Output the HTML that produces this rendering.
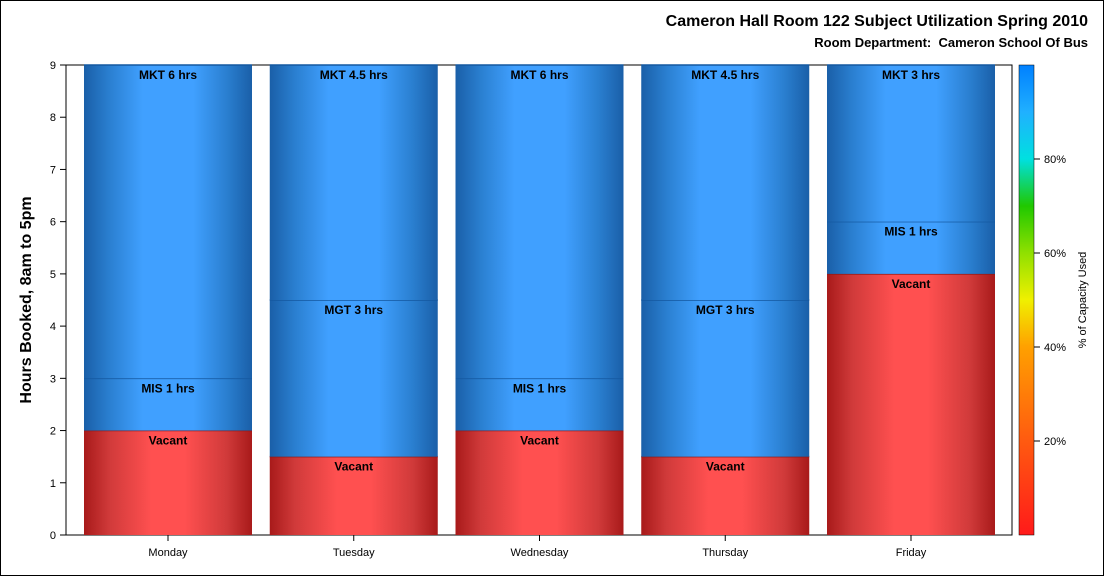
<!DOCTYPE html>
<html><head><meta charset="utf-8"><style>
body{margin:0;background:#fff;font-family:"Liberation Sans",sans-serif}
</style></head><body>
<svg id="c" width="1104" height="576" xmlns="http://www.w3.org/2000/svg" font-family="Liberation Sans, sans-serif">
<defs>
<linearGradient id="gb" x1="0" x2="1" y1="0" y2="0">
<stop offset="0" stop-color="#1a5fa8"/><stop offset="0.15" stop-color="#2a7fd0"/><stop offset="0.35" stop-color="#40a0ff"/><stop offset="0.65" stop-color="#40a0ff"/><stop offset="0.85" stop-color="#2a7fd0"/><stop offset="1" stop-color="#1a5fa8"/></linearGradient>
<linearGradient id="gr" x1="0" x2="1" y1="0" y2="0">
<stop offset="0" stop-color="#a81a1a"/><stop offset="0.15" stop-color="#d03a3a"/><stop offset="0.4" stop-color="#ff5050"/><stop offset="0.6" stop-color="#ff5050"/><stop offset="0.85" stop-color="#d03a3a"/><stop offset="1" stop-color="#a81a1a"/></linearGradient>
<linearGradient id="gc" x1="0" x2="0" y1="1" y2="0">
<stop offset="0" stop-color="#ff1a1a"/><stop offset="0.2" stop-color="#ff5a10"/><stop offset="0.4" stop-color="#ffa000"/><stop offset="0.5" stop-color="#f0f000"/><stop offset="0.6" stop-color="#90e000"/><stop offset="0.7" stop-color="#20c800"/><stop offset="0.8" stop-color="#00e0e0"/><stop offset="0.9" stop-color="#20b0ff"/><stop offset="1" stop-color="#0080ff"/></linearGradient>
</defs>
<rect x="0.5" y="0.5" width="1103" height="575" fill="#fff" stroke="#000"/>
<text x="1088" y="26" text-anchor="end" font-size="16" font-weight="bold">Cameron Hall Room 122 Subject Utilization Spring 2010</text>
<text x="1088" y="47" text-anchor="end" font-size="13" font-weight="bold" xml:space="preserve">Room Department:  Cameron School Of Bus</text>
<rect x="66" y="65" width="946" height="470" fill="none" stroke="#000"/>
<text transform="translate(31,300) rotate(-90)" text-anchor="middle" font-size="16" font-weight="bold">Hours Booked, 8am to 5pm</text>
<g id="yaxis"></g><g id="bars"></g><g id="xaxis"></g>
<rect x="1019" y="65" width="15" height="470" fill="url(#gc)" stroke="#000" stroke-width="0.5"/>
<g id="leg"></g>
<text transform="translate(1086,300) rotate(-90)" text-anchor="middle" font-size="11">% of Capacity Used</text>
</svg>
<script>
const days=["Monday","Tuesday","Wednesday","Thursday","Friday"];
const vacant=[2,1.5,2,1.5,5];
const midLabel=["MIS 1 hrs","MGT 3 hrs","MIS 1 hrs","MGT 3 hrs","MIS 1 hrs"];
const midHours=[1,3,1,3,1];
const topLabel=["MKT 6 hrs","MKT 4.5 hrs","MKT 6 hrs","MKT 4.5 hrs","MKT 3 hrs"];
const topHours=[6,4.5,6,4.5,3];
const yTicks=[0,1,2,3,4,5,6,7,8,9];
const legTicks=[20,40,60,80];
const NS="http://www.w3.org/2000/svg";
const y=v=>535-v*(470/9);
const xc=i=>168+i*185.75;
const bw=168;
function mk(t,a,p){const e=document.createElementNS(NS,t);for(const k in a)e.setAttribute(k,a[k]);p.appendChild(e);return e;}
const Y=document.getElementById('yaxis');
yTicks.forEach(v=>{
 const l=mk('line',{x1:60,x2:66,y1:y(v),y2:y(v),stroke:'#000'},Y);
 
 
 const t=mk('text',{x:56,y:y(v)+4,'text-anchor':'end','font-size':11},Y);t.textContent=v;
 
 
});
const B=document.getElementById('bars'),X=document.getElementById('xaxis');
days.forEach((d,i)=>{
 const x0=xc(i)-bw/2;
 const segs=[[0,vacant[i],'url(#gr)','#8a1a1a','Vacant'],[vacant[i],vacant[i]+midHours[i],'url(#gb)','#1458a0',midLabel[i]],[vacant[i]+midHours[i],vacant[i]+midHours[i]+topHours[i],'url(#gb)','#1458a0',topLabel[i]]];
 segs.forEach((s,j)=>{
  const r=mk('rect',{x:x0,y:y(s[1]),width:bw,height:y(s[0])-y(s[1]),fill:s[2]},B);
  
  
  mk('line',{x1:x0,x2:x0+bw,y1:y(s[1]),y2:y(s[1]),stroke:s[3],'stroke-width':1.5},B);
  const t=mk('text',{x:xc(i),y:y(s[1])+14,'text-anchor':'middle','font-size':12,'font-weight':'bold'},B);t.textContent=s[4];
  
  
 });
 mk('line',{x1:xc(i),x2:xc(i),y1:535,y2:541,stroke:'#000'},X);
 const t=mk('text',{x:xc(i),y:556,'text-anchor':'middle','font-size':11},X);t.textContent=d;
 
 
});
const L=document.getElementById('leg');
legTicks.forEach(p=>{
 const yy=535-p*4.7;
 mk('line',{x1:1034,x2:1040,y1:yy,y2:yy,stroke:'#000'},L);
 const t=mk('text',{x:1044,y:yy+4,'font-size':11},L);t.textContent=p+'%';
 
 
});
</script>
</body></html>
